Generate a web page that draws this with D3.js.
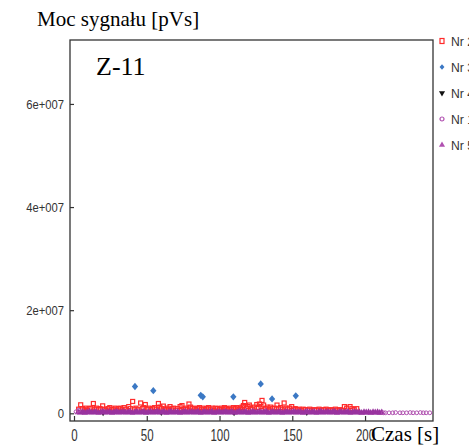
<!DOCTYPE html>
<html>
<head>
<meta charset="utf-8">
<script src="https://cdn.jsdelivr.net/npm/d3@7"></script>
<style>
  body { margin: 0; background: #fff; }
  svg { display: block; }
  .narrow { font-family: "Liberation Sans", Arial, sans-serif; }
  .serif { font-family: "Liberation Serif", "Times New Roman", serif; }
</style>
</head>
<body>
<svg id="chart" width="469" height="446"></svg>
<script>
// time [s], signal power [pVs]
const nr2 = [
  [3.2,0.8e6],[4.6,1.65e6],[5.8,0.9e6],[7.0,0.7e6],[8.1,1.0e6],[9.3,0.6e6],[10.4,0.9e6],[11.6,1.0e6],
  [13.3,1.9e6],[14.2,0.8e6],[15.5,1.0e6],[16.6,0.7e6],[17.9,0.9e6],[19.7,1.45e6],[20.8,0.8e6],[22.1,0.6e6],
  [23.4,0.9e6],[24.6,1.1e6],[25.9,0.7e6],[27.0,0.8e6],[28.3,1.0e6],[29.5,0.6e6],[30.7,0.9e6],[32.0,1.0e6],
  [33.1,0.7e6],[34.4,1.1e6],[35.6,0.8e6],[37.6,1.3e6],[38.7,0.9e6],[40.3,2.3e6],[41.5,0.8e6],[42.6,1.0e6],
  [43.8,0.7e6],[45.8,2.0e6],[46.9,0.9e6],[48.0,1.1e6],[49.0,1.7e6],[50.3,0.8e6],[51.5,1.0e6],[52.8,0.7e6],
  [54.0,0.9e6],[55.3,1.1e6],[56.5,0.8e6],[58.0,1.9e6],[59.1,1.2e6],[60.2,0.9e6],[61.4,1.4e6],[62.6,0.8e6],
  [63.9,1.0e6],[65.0,0.7e6],[66.0,1.3e6],[67.3,0.9e6],[68.5,1.0e6],[69.8,0.6e6],[71.0,0.9e6],[72.9,1.3e6],
  [74.2,1.5e6],[75.4,0.8e6],[76.6,1.0e6],[77.8,0.7e6],[79.0,1.8e6],[80.1,1.2e6],[81.3,0.9e6],[82.6,1.0e6],
  [83.8,0.7e6],[85.0,0.9e6],[86.2,1.1e6],[87.5,0.8e6],[88.7,1.0e6],[90.0,0.7e6],[91.2,0.9e6],[92.4,1.1e6],
  [93.6,0.8e6],[94.9,1.0e6],[96.2,0.6e6],[97.5,1.0e6],[98.7,0.9e6],[100.0,0.7e6],[101.2,1.0e6],[102.4,0.8e6],
  [103.4,1.1e6],[104.6,0.9e6],[105.9,0.7e6],[107.1,1.0e6],[108.3,0.8e6],[109.6,1.1e6],[110.8,0.9e6],[112.0,1.1e6],
  [113.2,0.7e6],[114.4,1.0e6],[115.5,1.2e6],[116.4,1.5e6],[117.3,2.1e6],[118.5,1.0e6],[119.6,1.3e6],[120.5,1.6e6],
  [121.6,1.0e6],[122.8,0.8e6],[124.0,1.2e6],[125.6,1.7e6],[126.6,1.1e6],[127.4,1.8e6],[128.5,1.3e6],[129.2,2.5e6],
  [130.3,1.6e6],[131.5,0.9e6],[132.7,1.2e6],[133.9,0.8e6],[135.2,1.2e6],[136.5,0.9e6],[137.7,1.0e6],[139.5,1.6e6],
  [140.6,0.9e6],[141.8,1.1e6],[143.0,0.8e6],[144.4,2.0e6],[145.6,1.0e6],[146.8,0.8e6],[148.0,1.0e6],[149.6,1.3e6],
  [150.8,0.8e6],[152.0,0.9e6],[153.3,0.7e6],[154.6,0.8e6],[156.0,0.6e6],[157.5,0.8e6],[159.0,0.7e6],[160.5,0.6e6],
  [162.0,0.8e6],[163.6,0.6e6],[165.2,0.7e6],[166.8,0.6e6],[168.4,0.8e6],[170.0,0.6e6],[171.6,0.7e6],[173.2,0.8e6],
  [174.8,0.6e6],[176.4,0.7e6],[178.0,0.6e6],[179.6,0.8e6],[181.2,0.6e6],[182.8,0.7e6],[184.4,0.6e6],[185.8,1.3e6],
  [187.4,1.0e6],[189.7,1.3e6],[191.0,0.9e6],[192.6,0.7e6],[194.3,0.9e6]
];

const nr3 = [
  [41.9,5.2e6],[54.5,4.4e6],[87.1,3.5e6],[88.5,3.2e6],[109.5,3.2e6],[128.3,5.7e6],[136.1,2.8e6],[152.4,3.4e6]
];

const nr4 = [
  [20.0,0.1e6],[60.0,0.15e6],[110.0,0.1e6],[160.0,0.15e6]
];

const nr1 = [
  [1.4,0.3e6],[3.2,0.6e6],
  [212.6,0.1e6],[214.0,0.1e6],[216.5,0.1e6],[219.0,0.1e6],[221.0,0.15e6],[224.0,0.1e6],[226.0,0.1e6],
  [228.5,0.1e6],[231.0,0.15e6],[233.0,0.1e6],[235.5,0.1e6],[238.0,0.15e6],[240.0,0.1e6],[242.0,0.1e6],
  [244.5,0.1e6]
];

const nr5 = [
  [2.8,0.2e6],[4.3,0.15e6],[5.9,0.25e6],[7.4,0.1e6],[9.0,0.2e6],[10.6,0.3e6],[12.1,0.15e6],[13.7,0.2e6],
  [15.2,0.25e6],[16.8,0.1e6],[18.4,0.2e6],[19.9,0.3e6],[21.5,0.15e6],[23.0,0.2e6],[24.6,0.25e6],[26.2,0.1e6],
  [27.7,0.2e6],[29.3,0.3e6],[30.8,0.15e6],[32.4,0.2e6],[34.0,0.25e6],[35.5,0.15e6],[37.1,0.2e6],[38.6,0.3e6],
  [40.2,0.1e6],[41.8,0.2e6],[43.3,0.25e6],[44.9,0.15e6],[46.4,0.2e6],[48.0,0.3e6],[49.6,0.1e6],[51.1,0.2e6],
  [52.7,0.25e6],[54.2,0.15e6],[55.8,0.2e6],[57.4,0.3e6],[58.9,0.15e6],[60.5,0.2e6],[62.0,0.25e6],[63.6,0.1e6],
  [65.2,0.2e6],[66.7,0.3e6],[68.3,0.15e6],[69.8,0.2e6],[71.4,0.25e6],[73.0,0.1e6],[74.5,0.2e6],[76.1,0.3e6],
  [77.6,0.15e6],[79.2,0.2e6],[80.8,0.25e6],[82.3,0.15e6],[83.9,0.2e6],[85.4,0.3e6],[87.0,0.1e6],[88.6,0.2e6],
  [90.1,0.25e6],[91.7,0.15e6],[93.2,0.2e6],[94.8,0.3e6],[96.4,0.1e6],[97.9,0.2e6],[99.5,0.25e6],[101.0,0.15e6],
  [102.6,0.2e6],[104.2,0.3e6],[105.7,0.15e6],[107.3,0.2e6],[108.8,0.25e6],[110.4,0.1e6],[112.0,0.2e6],[113.5,0.3e6],
  [115.1,0.15e6],[116.6,0.2e6],[118.2,0.25e6],[119.8,0.1e6],[121.3,0.2e6],[122.9,0.3e6],[124.4,0.15e6],[126.0,0.2e6],
  [127.6,0.25e6],[129.1,0.15e6],[130.7,0.2e6],[132.2,0.3e6],[133.8,0.1e6],[135.4,0.2e6],[136.9,0.25e6],[138.5,0.15e6],
  [140.0,0.2e6],[141.6,0.3e6],[143.2,0.1e6],[144.7,0.2e6],[146.3,0.25e6],[147.8,0.15e6],[149.4,0.2e6],[151.0,0.3e6],
  [152.5,0.15e6],[154.1,0.2e6],[155.6,0.25e6],[157.2,0.1e6],[158.8,0.2e6],[160.3,0.3e6],[161.9,0.15e6],[163.4,0.2e6],
  [165.0,0.25e6],[166.6,0.1e6],[168.1,0.2e6],[169.7,0.3e6],[171.2,0.15e6],[172.8,0.2e6],[174.4,0.25e6],[175.9,0.15e6],
  [177.5,0.2e6],[179.0,0.3e6],[180.6,0.1e6],[182.2,0.2e6],[183.7,0.25e6],[185.3,0.15e6],[186.8,0.2e6],[188.4,0.3e6],
  [190.0,0.1e6],[191.5,0.2e6],[193.1,0.25e6],[194.6,0.15e6],[196.2,0.2e6],[197.7,0.1e6],[199.3,0.2e6],[200.8,0.15e6],
  [202.4,0.2e6],[203.9,0.1e6],[205.5,0.2e6],[207.0,0.15e6],[208.6,0.2e6],[210.1,0.1e6],[211.5,0.15e6]
];

const xTicks = [0, 50, 100, 150, 200];
const yTicks = [0, 2e7, 4e7, 6e7];
const yTickLabels = ["0", "2e+007", "4e+007", "6e+007"];
const legendNames = ["Nr 2", "Nr 3", "Nr 4", "Nr 1", "Nr 5"];

const RED = "#ff2a2a", BLUE = "#3b78c4", BLACK = "#111", PURPLE = "#99339f", PURPLE_LIGHT = "#b050b0";

function drawViz() {
  const svg = d3.select("#chart");
  svg.selectAll("*").remove();

  const box = { left: 70, top: 40, right: 433, bottom: 421 };
  const x = d3.scaleLinear().domain([-2.75, 246.7]).range([box.left, box.right]);
  const y = d3.scaleLinear().domain([-1.49e6, 72.4e6]).range([box.bottom, box.top]);

  svg.append("text").attr("class", "serif")
    .attr("x", 37).attr("y", 26).attr("font-size", 21).attr("fill", "#000")
    .text("Moc sygnału [pVs]");

  // axes with inward ticks; labels squeezed to the narrow look of the original
  const yAxis = svg.append("g").attr("transform", `translate(${box.left},0)`)
    .call(d3.axisLeft(y).tickValues(yTicks).tickFormat((d, i) => yTickLabels[i])
      .tickSizeInner(-4).tickSizeOuter(0).tickPadding(6));
  yAxis.select(".domain").remove();
  yAxis.selectAll("line").attr("stroke", "#333").attr("stroke-width", 1.2);
  yAxis.selectAll("text").attr("class", "narrow").attr("font-size", 13).attr("fill", "#333")
    .attr("lengthAdjust", "spacingAndGlyphs")
    .attr("textLength", function () { return this.textContent.length * 6.3; });

  const xAxis = svg.append("g").attr("transform", `translate(0,${box.bottom})`)
    .call(d3.axisBottom(x).tickValues(xTicks).tickFormat(d3.format("d"))
      .tickSizeInner(-5).tickSizeOuter(0).tickPadding(9));
  xAxis.select(".domain").remove();
  xAxis.selectAll("line").attr("stroke", "#333").attr("stroke-width", 1.2);
  xAxis.selectAll("text").attr("class", "narrow").attr("font-size", 16).attr("fill", "#333")
    .attr("lengthAdjust", "spacingAndGlyphs")
    .attr("textLength", function () { return this.textContent.length * 6.4; });

  svg.append("rect")
    .attr("x", box.left).attr("y", box.top)
    .attr("width", box.right - box.left).attr("height", box.bottom - box.top)
    .attr("fill", "none").attr("stroke", "#333").attr("stroke-width", 1.3);

  const plot = svg.append("g");
  const sym = (type, size) => d3.symbol().type(type).size(size)();

  // Nr 4 – black triangles (hidden under the band)
  plot.selectAll(".nr4").data(nr4).enter().append("path")
    .attr("d", sym(d3.symbolTriangle, 16))
    .attr("transform", d => `translate(${x(d[0])},${y(d[1])}) rotate(180)`)
    .attr("fill", BLACK);

  // Nr 2 – red open squares
  plot.selectAll(".nr2").data(nr2).enter().append("rect")
    .attr("x", d => x(d[0]) - 2).attr("y", d => y(d[1]) - 2)
    .attr("width", 4).attr("height", 4)
    .attr("fill", "none").attr("stroke", RED).attr("stroke-width", 1.2);

  // Nr 5 – purple triangles
  plot.selectAll(".nr5").data(nr5).enter().append("path")
    .attr("d", sym(d3.symbolTriangle, 20))
    .attr("transform", d => `translate(${x(d[0])},${y(d[1])})`)
    .attr("fill", PURPLE);

  // Nr 1 – purple open circles
  plot.selectAll(".nr1").data(nr1).enter().append("circle")
    .attr("cx", d => x(d[0])).attr("cy", d => y(d[1])).attr("r", 1.9)
    .attr("fill", "none").attr("stroke", PURPLE_LIGHT).attr("stroke-width", 1);

  // Nr 3 – blue diamonds
  plot.selectAll(".nr3").data(nr3).enter().append("path")
    .attr("d", sym(d3.symbolSquare, 20))
    .attr("transform", d => `translate(${x(d[0])},${y(d[1])}) scale(1,1.15) rotate(45)`)
    .attr("fill", BLUE);

  svg.append("text").attr("class", "serif")
    .attr("x", 96).attr("y", 75).attr("font-size", 26).attr("fill", "#000")
    .text("Z-11");

  svg.append("text").attr("class", "serif")
    .attr("x", 371).attr("y", 441).attr("font-size", 21).attr("fill", "#000")
    .text("Czas [s]");

  // legend
  const legend = svg.append("g").attr("transform", "translate(442,41)");
  const items = legend.selectAll("g").data(legendNames).enter().append("g")
    .attr("transform", (d, i) => `translate(0,${i * 26})`);
  items.each(function (d, i) {
    const g = d3.select(this);
    if (i === 0) g.append("rect").attr("x", -2).attr("y", -2.5).attr("width", 4).attr("height", 5)
      .attr("fill", "none").attr("stroke", RED).attr("stroke-width", 1.2);
    if (i === 1) g.append("path").attr("d", sym(d3.symbolSquare, 12))
      .attr("transform", "scale(1,1.15) rotate(45)").attr("fill", BLUE);
    if (i === 2) g.append("path").attr("d", sym(d3.symbolTriangle, 16)).attr("transform", "rotate(180)").attr("fill", BLACK);
    if (i === 3) g.append("circle").attr("r", 2).attr("fill", "none").attr("stroke", PURPLE_LIGHT).attr("stroke-width", 1.2);
    if (i === 4) g.append("path").attr("d", sym(d3.symbolTriangle, 16)).attr("fill", PURPLE_LIGHT);
  });
  items.append("text").attr("class", "narrow")
    .attr("x", 9).attr("y", 4.5).attr("font-size", 13).attr("fill", "#333")
    .attr("lengthAdjust", "spacingAndGlyphs").attr("textLength", 23)
    .text(d => d);
}

drawViz();
</script>
</body>
</html>
